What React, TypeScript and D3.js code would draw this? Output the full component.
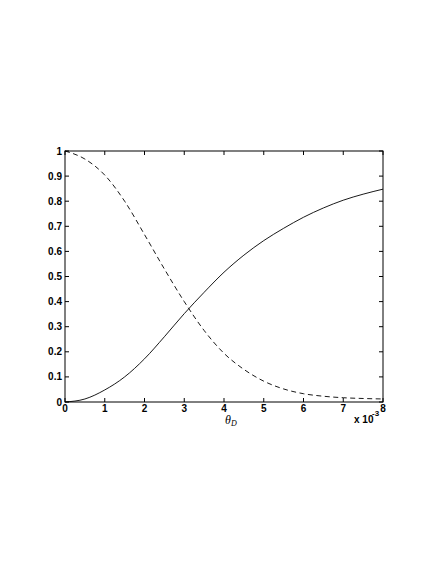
import React from "react";
import * as d3 from "d3";

const xValues = [0, 0.5, 1, 1.5, 2, 2.5, 3, 3.5, 4, 4.5, 5, 5.5, 6, 6.5, 7, 7.5, 8];
const solidValues = [0, 0.012, 0.048, 0.1, 0.172, 0.26, 0.352, 0.437, 0.517, 0.585, 0.643, 0.692, 0.736, 0.773, 0.804, 0.828, 0.848];
const dashedValues = [1.0, 0.968, 0.904, 0.8, 0.667, 0.53, 0.4, 0.285, 0.194, 0.13, 0.083, 0.052, 0.033, 0.023, 0.017, 0.014, 0.012];
const xTicks = [0, 1, 2, 3, 4, 5, 6, 7, 8];
const yTicks = [0, 0.1, 0.2, 0.3, 0.4, 0.5, 0.6, 0.7, 0.8, 0.9, 1];

const W = 436, H = 564;
const L = 65, R = 383, T = 151, B = 402;

export default function App() {
  const x = d3.scaleLinear().domain([0, 8]).range([L, R]);
  const y = d3.scaleLinear().domain([0, 1]).range([B, T]);
  const line = (vals: number[]) =>
    d3.line<number>().x((_, i) => x(xValues[i])).y((d) => y(d)).curve(d3.curveMonotoneX)(vals) || "";
  const tickFont = { fontFamily: "'Liberation Sans', Arial, sans-serif", fontSize: 10, fontWeight: 700 as const };
  const tl = 4;
  return (
    <svg width={W} height={H} style={{ position: "absolute", left: 0, top: 0, background: "#fff" }}>
      <rect x={0} y={0} width={W} height={H} fill="#fff" />
      <g stroke="#000" strokeWidth={1} fill="none">
        {xTicks.map((t) => (
          <g key={"xt" + t}>
            <line x1={x(t)} x2={x(t)} y1={B} y2={B - tl} />
            <line x1={x(t)} x2={x(t)} y1={T} y2={T + tl} />
          </g>
        ))}
        {yTicks.map((t) => (
          <g key={"yt" + t}>
            <line x1={L} x2={L + tl} y1={y(t)} y2={y(t)} />
            <line x1={R} x2={R - tl} y1={y(t)} y2={y(t)} />
          </g>
        ))}
        <rect x={L} y={T} width={R - L} height={B - T} />
      </g>
      <path d={line(solidValues)} fill="none" stroke="#000" strokeWidth={0.9} />
      <path d={line(dashedValues)} fill="none" stroke="#000" strokeWidth={0.9} strokeDasharray="5,3.5" />
      <g {...tickFont} fill="#000">
        {xTicks.map((t) => (
          <text key={"xl" + t} x={x(t)} y={B + 10} textAnchor="middle">{String(t)}</text>
        ))}
        {yTicks.map((t) => (
          <text key={"yl" + t} x={L - 3} y={y(t) + 3.5} textAnchor="end">{String(t)}</text>
        ))}
        <text x={354} y={423} fontWeight={700}>x 10</text>
        <text x={372} y={416} fontSize={8}>-3</text>
      </g>
      <text x={225} y={424} fontFamily="'Liberation Serif', 'DejaVu Serif', serif" fontStyle="italic" fontSize={12} fill="#000">
        θ<tspan fontSize={8} dy={2}>D</tspan>
      </text>
    </svg>
  );
}
